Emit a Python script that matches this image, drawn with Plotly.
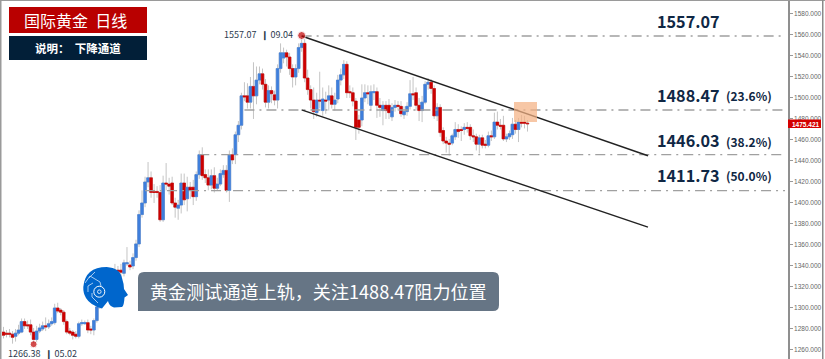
import plotly.graph_objects as go

W, H = 825, 359
FONT = "Noto Sans CJK SC"
NAVY = "#0f2744"

opens = [
 1277,1276,1276,1275,1273,1276,1277,1287,1284,1284,
 1277,1270,1278,1280,1283,1282,1285,1286,1300,1298,
 1296,1287,1278,1277,1275,1273,1285,1285,1286,1280,
 1279,1288,1301,1311,1315,1312,1322,1329,1336,1336,
 1333,1342,1341,1340,1348,1361,1389,1400,1420,1424,
 1411,1411,1410,1384,1419,1418,1419,1400,1395,1398,
 1419,1404,1415,1415,1406,1427,1446,1427,1424,1417,
 1426,1414,1418,1427,1431,1412,1446,1446,1465,1474,
 1502,1502,1496,1511,1502,1517,1523,1513,1496,1507,
 1503,1498,1528,1538,1543,1539,1528,1520,1528,1548,
 1552,1519,1508,1498,1486,1498,1488,1498,1498,1502,
 1494,1499,1517,1522,1532,1506,1505,1497,1479,1479,
 1500,1505,1493,1505,1506,1493,1488,1493,1493,1482,
 1491,1493,1492,1484,1487,1492,1504,1505,1493,1488,
 1496,1513,1515,1509,1483,1491,1469,1459,1457,1457,
 1463,1470,1470,1470,1472,1472,1464,1463,1456,1462,
 1456,1455,1464,1463,1477,1474,1474,1461,1463,1465,
 1475,1470,1477,1477,1476,
]
highs = [
 1282,1279,1280,1278,1280,1284,1290,1290,1288,1289,
 1281,1283,1285,1287,1291,1289,1291,1304,1305,1300,
 1298,1289,1281,1279,1278,1287,1289,1288,1289,1283,
 1290,1304,1315,1319,1320,1326,1333,1342,1340,1342,
 1346,1358,1345,1352,1365,1393,1412,1425,1439,1430,
 1418,1416,1417,1426,1438,1424,1425,1405,1403,1428,
 1428,1425,1420,1422,1430,1450,1453,1432,1432,1432,
 1434,1424,1432,1436,1436,1450,1452,1468,1478,1505,
 1515,1514,1520,1534,1530,1530,1528,1518,1512,1511,
 1507,1532,1552,1548,1546,1543,1532,1532,1552,1557.07,
 1556,1527,1512,1510,1505,1525,1510,1506,1512,1510,
 1505,1522,1528,1536,1535,1512,1510,1500,1484,1513,
 1513,1512,1512,1513,1510,1500,1497,1497,1499,1495,
 1498,1497,1497,1492,1496,1517,1520,1510,1500,1502,
 1516,1519,1518,1512,1495,1494,1472,1463,1461,1466,
 1477,1475,1473,1476,1477,1475,1470,1466,1465,1465,
 1460,1468,1469,1486,1487,1480,1483,1466,1469,1481,
 1479,1481,1484,1483,1479,
]
lows = [
 1271,1272,1272,1266,1268,1274,1276,1280,1280,1274,
 1266.38,1267,1276,1278,1278,1280,1283,1284,1295,1293,
 1284,1275,1274,1270,1271,1271,1283,1284,1276,1275,
 1274,1286,1299,1308,1308,1310,1319,1326,1332,1330,
 1330,1340,1336,1337,1345,1358,1386,1396,1415,1405,
 1400,1405,1382,1382,1412,1408,1398,1386,1384,1390,
 1398,1392,1404,1398,1402,1423,1422,1419,1412,1413,
 1410,1412,1416,1424,1410,1401,1437,1437,1458,1470,
 1497,1490,1490,1480,1494,1513,1508,1491,1490,1495,
 1493,1490,1524,1533,1530,1522,1510,1512,1524,1544,
 1515,1503,1490,1480,1482,1490,1483,1485,1488,1490,
 1488,1495,1512,1518,1500,1500,1492,1460,1466,1473,
 1496,1494,1488,1498,1481,1482,1474,1480,1480,1478,
 1487,1488,1482,1480,1483,1489,1498,1488,1478,1477,
 1494,1508,1504,1480,1478,1463,1456,1448,1445,1455,
 1460,1462,1459,1465,1467,1460,1458,1450,1447,1452,
 1452,1453,1459,1461,1470,1470,1459,1458,1460,1461,
 1466,1458,1472,1471,1468,
]
closes = [
 1274,1275,1275,1272,1276,1279,1287,1283,1283,1277,
 1270,1278,1281,1283,1282,1285,1287,1300,1297,1296,
 1287,1277,1276,1274,1273,1285,1286,1286,1279,1279,
 1288,1301,1311,1315,1312,1322,1329,1335,1335,1334,
 1343,1343,1339,1348,1361,1389,1400,1420,1424,1410,
 1410,1410,1384,1419,1418,1416,1400,1396,1398,1419,
 1403,1415,1412,1406,1427,1446,1426,1424,1417,1426,
 1414,1418,1428,1431,1412,1446,1441,1465,1474,1502,
 1501,1496,1511,1502,1517,1523,1513,1496,1507,1504,
 1498,1528,1543,1543,1539,1528,1520,1528,1548,1552,
 1519,1508,1498,1487,1498,1497,1499,1497,1502,1494,
 1498,1517,1522,1532,1505,1505,1497,1472,1472,1500,
 1505,1504,1506,1506,1493,1491,1493,1488,1486,1491,
 1493,1492,1485,1487,1492,1504,1503,1493,1488,1496,
 1513,1515,1509,1483,1491,1467,1459,1457,1456,1464,
 1470,1468,1469,1472,1471,1464,1463,1456,1462,1455,
 1455,1464,1463,1477,1474,1473,1461,1463,1466,1475,
 1470,1477,1476,1476,1475.42,
]
sessions = list(range(len(closes)))

y_ticks = [1260,1280,1300,1320,1340,1360,1380,1400,1420,1440,1460,1480,1500,1520,1540,1560,1580]
y_tick_labels = [f"{v}.000" for v in y_ticks]

level_prices = [1559, 1488.47, 1446.03, 1411.73]
level_starts = [99, 80, 65, 47]
level_end = 259.5
channel_upper_x = [99, 214]
channel_upper_y = [1559, 1445]
channel_lower_x = [99, 214]
channel_lower_y = [1488.6, 1377]
extreme_x = [99, 10]
extreme_y = [1559.5, 1265.5]
last_price = 1475.421


def fx(px):
    return (px - 2) / 786


def fy(py):
    return 1 - py / H


def pt(px, py):
    return f"{fx(px):.5f} {fy(py):.5f}"


fig = go.Figure()
fig.add_trace(go.Candlestick(
    x=sessions, open=opens, high=highs, low=lows, close=closes,
    increasing=dict(line=dict(color="#c4c4c4", width=1), fillcolor="#c4c4c4"),
    decreasing=dict(line=dict(color="#c4c4c4", width=1), fillcolor="#c4c4c4"),
    whiskerwidth=0, showlegend=False, hoverinfo="skip"))
fig.add_trace(go.Candlestick(
    x=sessions, open=opens, close=closes,
    high=[max(o, c) for o, c in zip(opens, closes)],
    low=[min(o, c) for o, c in zip(opens, closes)],
    increasing=dict(line=dict(color="#3f7fdc", width=0.6), fillcolor="#3f7fdc"),
    decreasing=dict(line=dict(color="#cc0000", width=0.6), fillcolor="#cc0000"),
    whiskerwidth=0, showlegend=False, hoverinfo="skip"))

for p, s in zip(level_prices, level_starts):
    fig.add_trace(go.Scatter(x=[s, level_end], y=[p, p], mode="lines", showlegend=False, hoverinfo="skip",
                             line=dict(color="#a0a0a0", width=1.4, dash="10px,5px,2px,5px")))
for xs, ys in ((channel_upper_x, channel_upper_y), (channel_lower_x, channel_lower_y)):
    fig.add_trace(go.Scatter(x=xs, y=ys, mode="lines", showlegend=False, hoverinfo="skip",
                             line=dict(color="#222222", width=1.4)))
fig.add_trace(go.Scatter(x=extreme_x, y=extreme_y, mode="markers", showlegend=False, hoverinfo="skip",
                         marker=dict(color="#c00000", size=[8, 7])))

shapes = []


def rect(x0, y0, x1, y1, color, opacity=1.0):
    shapes.append(dict(type="rect", xref="paper", yref="paper", x0=fx(x0), x1=fx(x1), y0=fy(y0), y1=fy(y1),
                       fillcolor=color, opacity=opacity, line_width=0, layer="above"))


rect(0, 0, W, 1, "#9a9a9a")
rect(0, 0, 1.5, H, "#9a9a9a")
rect(822, 0, 823.5, H, "#8a8a8a")
rect(9, 7, 147, 33, "#b90000")
rect(9, 36, 147, 60, "#021f38")
rect(514, 102, 537, 122, "#f4b183", 0.72)
rect(788, 119.5, 821, 128, "#d40000")

# callout with rounded corners
x0, x1, y0, y1, r = 138, 493, 272, 311, 6
shapes.append(dict(type="path", xref="paper", yref="paper", fillcolor="#667585", line_width=0, layer="above",
                   path=f"M {pt(x0 + r, y0)} L {pt(x1, y0)} Q {pt(x1 + r, y0)} {pt(x1 + r, y0 + r)} "
                        f"L {pt(x1 + r, y1 - r)} Q {pt(x1 + r, y1)} {pt(x1, y1)} L {pt(x0, y1)} "
                        f"L {pt(x0, y0 + r)} Q {pt(x0, y0)} {pt(x0 + r, y0)} Z"))

# robot-head logo
shapes.append(dict(type="path", xref="paper", yref="paper", fillcolor="#0066cc", line_width=0, layer="above",
                   path=f"M {pt(83.3, 287)} Q {pt(85, 267)} {pt(106.7, 267)} Q {pt(120, 268)} {pt(122, 278)} "
                        f"Q {pt(124, 284)} {pt(124, 289)} L {pt(128, 295)} L {pt(124.5, 297.5)} "
                        f"Q {pt(124, 306)} {pt(122, 307)} L {pt(114, 307.5)} Q {pt(109, 306)} {pt(108, 301)} "
                        f"L {pt(102, 308.5)} Q {pt(90, 305)} {pt(86, 298)} Q {pt(83, 293)} {pt(83.3, 287)} Z"))
shapes.append(dict(type="circle", xref="paper", yref="paper", layer="above", x0=fx(93.8), x1=fx(104.8),
                   y0=fy(297.2), y1=fy(286.2), line=dict(color="#ffffff", width=1), fillcolor="rgba(0,0,0,0)"))
shapes.append(dict(type="circle", xref="paper", yref="paper", layer="above", x0=fx(97.5), x1=fx(101.1),
                   y0=fy(293.5), y1=fy(289.9), line=dict(color="#ffffff", width=0.8), fillcolor="#0066cc"))
for d in (f"M {pt(85, 283)} L {pt(90, 276)} L {pt(100, 282)} L {pt(101, 286)}",
          f"M {pt(88, 292)} L {pt(88, 286)} L {pt(93, 283)}",
          f"M {pt(92, 293)} L {pt(92, 297)} L {pt(98, 303)}",
          f"M {pt(89, 278)} L {pt(95, 272)}"):
    shapes.append(dict(type="path", xref="paper", yref="paper", layer="above", path=d,
                       line=dict(color="#cfe3fa", width=0.8)))

annotations = []


def text(px, py, s, size, color, anchor="left", bold=False, family=FONT):
    annotations.append(dict(xref="paper", yref="paper", x=fx(px), y=fy(py), xanchor=anchor, yanchor="middle",
                            text=f"<b>{s}</b>" if bold else s, showarrow=False, align=anchor,
                            font=dict(family=family, size=size, color=color)))


text(75, 20, "国际黄金  日线", 16, "#ffffff", "center")
text(78, 47.5, "说明：  下降通道", 11.5, "#ffffff", "center", True)
text(148, 291, "黄金测试通道上轨，关注1488.47阻力位置", 18.1, "#ffffff")
for s, py in (("1557.07", 21.5), ("1488.47", 95), ("1446.03", 140), ("1411.73", 175)):
    text(655, py, s, 16.2, NAVY, bold=True)
for s, py in (("(23.6%)", 96), ("(38.2%)", 141), ("(50.0%)", 176)):
    text(724, py, s, 12, NAVY, bold=True)
text(222, 35, "1557.07  ❙ 09.04", 9, "#2b3a4d")
text(6, 353, "1266.38  ❙ 05.02", 9, "#2b3a4d")
text(805, 124, f"{last_price:.3f}", 6.5, "#ffffff", "center", True, "Liberation Sans")

fig.update_layout(
    width=W, height=H, autosize=False,
    margin=dict(l=2, r=37, t=0, b=0),
    paper_bgcolor="#ffffff", plot_bgcolor="#ffffff",
    showlegend=False, hovermode=False, boxgap=0.12, boxgroupgap=0, boxmode="overlay",
    shapes=shapes, annotations=annotations,
    xaxis=dict(range=[-0.5, 260.5], visible=False, rangeslider=dict(visible=False), fixedrange=True),
    yaxis=dict(range=[1251.4, 1593.3], side="right", showgrid=False, zeroline=False, showline=True,
               linecolor="#8f8f8f", linewidth=1.5, ticks="outside", ticklen=3, tickwidth=1, tickcolor="#999999",
               tickvals=y_ticks, ticktext=y_tick_labels, fixedrange=True,
               tickfont=dict(family="Liberation Sans", size=6.5, color="#666666")),
)

fig.write_html("out.html", config={"displayModeBar": False},
               post_script="document.body.style.margin='0';document.body.style.overflow='hidden';")
